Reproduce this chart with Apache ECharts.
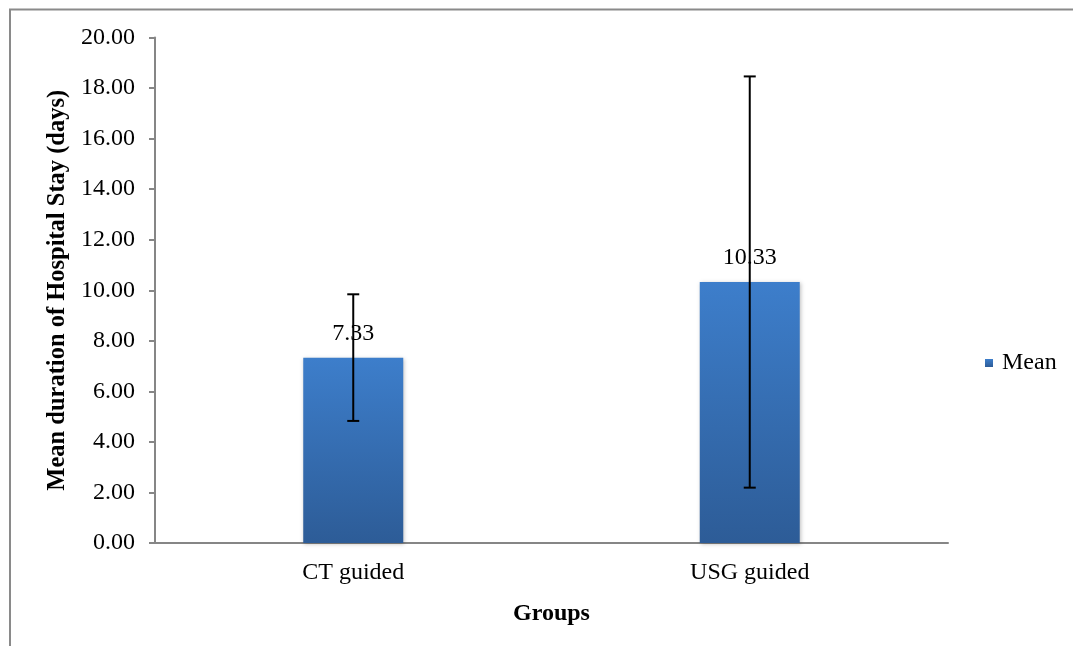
<!DOCTYPE html>
<html>
<head>
<meta charset="utf-8">
<script src="https://cdn.jsdelivr.net/npm/echarts@6/dist/echarts.min.js"></script>
<style>html,body{margin:0;padding:0;background:#fff}#c{width:1073px;height:646px}</style>
</head>
<body>
<div id="c"></div>
<script>
var categories = ['CT guided', 'USG guided'];
var meanValues = [7.33, 10.33];
var errLow = [4.83, 2.19];
var errHigh = [9.84, 18.46];
var yTicks = { min: 0, max: 20, interval: 2 };

var chart = echarts.init(document.getElementById('c'));
var font = 'Liberation Serif, Times New Roman, serif';
var errData = categories.map(function (c, i) { return [i, errLow[i], errHigh[i]]; });

chart.setOption({
  animation: false,
  textStyle: { fontFamily: font },
  graphic: [{
    type: 'rect', shape: { x: 10, y: 9.5, width: 1200, height: 800 },
    style: { fill: 'none', stroke: '#8a8a8a', lineWidth: 2 }, silent: true
  }],
  grid: { left: 155, right: 125, top: 37.5, bottom: 103 },
  legend: {
    data: ['Mean'], left: 980, top: 346, icon: 'rect', itemWidth: 8, itemHeight: 8, itemGap: 4,
    formatter: function (n) { return '{a|' + n + '}'; },
    textStyle: { fontFamily: font, fontSize: 24, color: '#000',
      rich: { a: { fontFamily: font, fontSize: 24, color: '#000', padding: [0, 0, 0, 4] } } }
  },
  xAxis: {
    type: 'category', data: categories,
    axisLine: { lineStyle: { color: '#868686', width: 2 } },
    axisTick: { show: false },
    axisLabel: { fontFamily: font, fontSize: 24, color: '#000', margin: 18 },
    name: 'Groups', nameLocation: 'middle', nameGap: 59,
    nameTextStyle: { fontFamily: font, fontSize: 24, fontWeight: 'bold', color: '#000' }
  },
  yAxis: {
    type: 'value', min: yTicks.min, max: yTicks.max, interval: yTicks.interval,
    axisLine: { show: true, lineStyle: { color: '#868686', width: 2 } },
    axisTick: { show: true, length: 6, lineStyle: { color: '#868686', width: 2 } },
    splitLine: { show: false },
    axisLabel: { fontFamily: font, fontSize: 24, color: '#000', margin: 20,
      formatter: function (v) { return v.toFixed(2); } },
    name: 'Mean duration of Hospital Stay (days)', nameLocation: 'middle', nameGap: 84,
    nameTextStyle: { fontFamily: font, fontSize: 24.5, fontWeight: 'bold', color: '#000' }
  },
  series: [{
    name: 'Mean', type: 'bar', data: meanValues, barWidth: 100,
    itemStyle: {
      color: new echarts.graphic.LinearGradient(0, 0, 0, 1, [
        { offset: 0, color: '#3d7ecb' }, { offset: 1, color: '#2d5c97' }
      ]),
      shadowColor: 'rgba(0,0,0,0.25)', shadowBlur: 4, shadowOffsetX: 1, shadowOffsetY: 1
    },
    label: { show: true, position: 'top', distance: 12, fontFamily: font, fontSize: 24, color: '#000',
      formatter: function (p) { return p.value.toFixed(2); } }
  }, {
    name: 'err', type: 'custom', data: errData, z: 10,
    renderItem: function (params, api) {
      var x = api.value(0);
      var lo = api.coord([x, api.value(1)]);
      var hi = api.coord([x, api.value(2)]);
      var hw = 6;
      var st = { stroke: '#000', lineWidth: 2 };
      return { type: 'group', children: [
        { type: 'line', shape: { x1: hi[0], y1: hi[1], x2: lo[0], y2: lo[1] }, style: st },
        { type: 'line', shape: { x1: hi[0] - hw, y1: hi[1], x2: hi[0] + hw, y2: hi[1] }, style: st },
        { type: 'line', shape: { x1: lo[0] - hw, y1: lo[1], x2: lo[0] + hw, y2: lo[1] }, style: st }
      ] };
    }
  }]
});
</script>
</body>
</html>
